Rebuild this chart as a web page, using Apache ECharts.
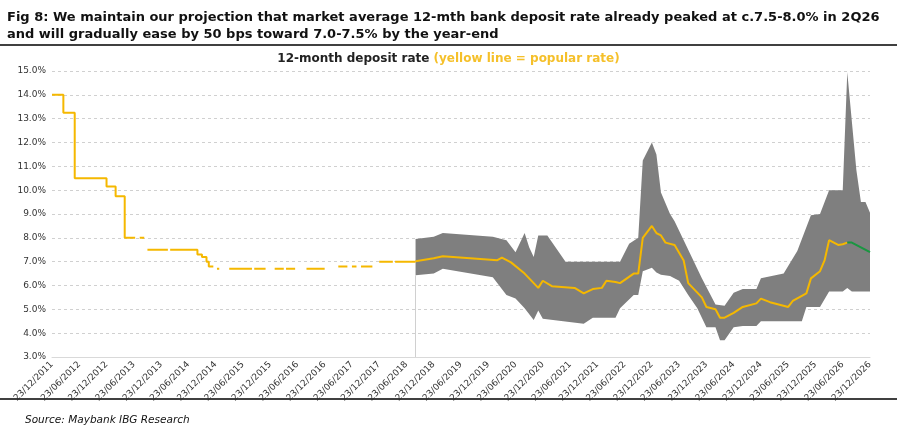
<!DOCTYPE html>
<html>
<head>
<meta charset="utf-8">
<script src="https://cdn.jsdelivr.net/npm/echarts@6/dist/echarts.min.js"></script>
<style>
body{margin:0;background:#fff;}
#chart{width:897px;height:432px;}
</style>
</head>
<body>
<div id="chart"></div>
<script>
// x values are months since 23/12/2011
var startYear=2011, startMonth=12;
var yTicks=[3,4,5,6,7,8,9,10,11,12,13,14,15];

// popular rate before the band, gaps (null) give the dashed look
var popularEarly=[[0,14],[2.5,13.25],[5,10.5],[12,10.15],[14,9.75],[16,8],[18.3,8],null,
	[19.3,8],[20.3,8],null,[21,7.5],[25.5,7.5],null,[26,7.5],[32,7.3],[33,7.2],[34,7],[34.5,6.8],[35.5,6.8],null,
	[36.3,6.7],[36.8,6.7],null,[39,6.7],[44,6.7],null,[44.5,6.7],[47,6.7],null,[49,6.7],[51,6.7],null,
	[51.5,6.7],[53.5,6.7],null,[56,6.7],[60,6.7],null,[63,6.8],[65,6.8],null,[66,6.8],[67,6.8],null,
	[68,6.8],[70.5,6.8],null,[72,7],[75,7],null,[75.5,7],[80,7]];

var popularLate=[[80,7.02],[84,7.14],[86,7.23],[98,7.06],[99,7.17],[101,6.97],[104,6.5],[107,5.9],[108,6.2],
	[110,5.97],[115,5.9],[117,5.67],[119,5.85],[121,5.9],[122,6.2],[124,6.15],[125,6.1],[128,6.5],[129,6.5],
	[130,8.0],[132,8.5],[133,8.2],[134,8.1],[135,7.8],[137,7.7],[139,7.05],[140,6.1],[143,5.5],[144,5.1],
	[146,5.0],[147,4.65],[148,4.65],[150,4.85],[152,5.1],[155,5.25],[156,5.45],[158,5.3],[162,5.1],[163,5.35],
	[166,5.67],[167,6.3],[169,6.6],[170,7.05],[171,7.9],[173,7.7],[174,7.73],[175,7.8]];

var projection=[[175,7.8],[176,7.8],[180,7.4]];

var bandUpper=[[80,7.95],[84,8.05],[86,8.2],[97,8.05],[100,7.9],[102,7.4],[104,8.2],[105,7.6],[106,7.2],
	[107,8.1],[109,8.1],[113,7.0],[125,7.0],[127,7.75],[129,8.0],[130,11.25],[132,12.0],[133,11.5],[134,9.9],
	[136,9.0],[137,8.7],[139,7.9],[143,6.3],[146,5.2],[148,5.15],[150,5.7],[152,5.85],[155,5.85],[156,6.3],
	[161,6.5],[164,7.45],[167,8.95],[169,9.0],[171,10.0],[174,10.0],[175,14.95],[177,10.85],[178,9.5],
	[179,9.5],[180,9.05]];

var bandLower=[[80,6.43],[84,6.5],[86,6.7],[97,6.35],[100,5.6],[102,5.45],[104,5.05],[106,4.55],[107,4.95],
	[108,4.6],[117,4.4],[119,4.65],[124,4.65],[125,5.05],[128,5.6],[129,5.6],[130,6.6],[132,6.75],[133,6.55],
	[134,6.45],[136,6.4],[138,6.2],[140,5.6],[142,5.05],[144,4.25],[146,4.25],[147,3.7],[148,3.7],[150,4.25],
	[152,4.3],[155,4.3],[156,4.5],[165,4.5],[166,5.1],[169,5.1],[171,5.75],[174,5.75],[175,5.9],[176,5.75],
	[180,5.75]];

function monthLabel(m){
	var t=startMonth+m-1;
	var y=startYear+Math.floor(t/12);
	var mo=t%12+1;
	return '23/'+(mo<10?'0'+mo:mo)+'/'+y;
}

var myChart=echarts.init(document.getElementById('chart'));
var option={
	animation:false,
	textStyle:{fontFamily:'DejaVu Sans'},
	title:[
		{text:'Fig 8: We maintain our projection that market average 12-mth bank deposit rate already peaked at c.7.5-8.0% in 2Q26\nand will gradually ease by 50 bps toward 7.0-7.5% by the year-end',
			left:2,top:4,textStyle:{fontSize:13,fontWeight:'bold',color:'#111',lineHeight:17}},
		{text:'{a|12-month deposit rate }{b|(yellow line = popular rate)}',left:'center',top:48,
			textStyle:{rich:{a:{fontSize:12,fontWeight:'bold',color:'#222'},b:{fontSize:12,color:'#f5c02a'}}}},
		{text:'Source: Maybank IBG Research',left:20,top:410,textStyle:{fontSize:10.5,fontStyle:'italic',fontWeight:'normal',color:'#111'}}
	],
	graphic:[
		{type:'line',shape:{x1:0,y1:45,x2:897,y2:45},style:{stroke:'#000',lineWidth:1.5}},
		{type:'line',shape:{x1:0,y1:399,x2:897,y2:399},style:{stroke:'#000',lineWidth:1.5}}
	],
	grid:{left:52,right:27,top:71,bottom:75},
	xAxis:{type:'value',min:0,max:180,interval:6,
		axisLine:{lineStyle:{color:'#d9d9d9'}},axisTick:{show:false},splitLine:{show:false},
		axisLabel:{rotate:45,fontSize:9,color:'#333',margin:6,formatter:function(v){return monthLabel(v);}}},
	yAxis:{type:'value',min:yTicks[0],max:yTicks[yTicks.length-1],interval:1,
		axisLine:{show:false},axisTick:{show:false},
		splitLine:{lineStyle:{color:'#d0d0d0',type:[3,3]}},
		axisLabel:{fontSize:9,color:'#333',margin:6,formatter:function(v){return v.toFixed(1)+'%';}}},
	series:[
		{type:'custom',name:'band',silent:true,z:1,
			data:[0],
			renderItem:function(params,api){
				var pts=[];
				bandUpper.forEach(function(p){pts.push(api.coord(p));});
				for(var i=bandLower.length-1;i>=0;i--){pts.push(api.coord(bandLower[i]));}
				return {type:'polygon',shape:{points:pts},style:{fill:'#7f7f7f'}};
			}},
		{type:'line',name:'marker',data:[],silent:true,
			markLine:{symbol:'none',label:{show:false},lineStyle:{color:'#d0d0d0',type:'solid',width:1},
				data:[[{coord:[80,3]},{coord:[80,6.43]}]]}},
		{type:'line',name:'early',data:popularEarly,step:'end',showSymbol:false,connectNulls:false,z:3,
			lineStyle:{color:'#f5b800',width:2}},
		{type:'line',name:'late',data:popularLate,showSymbol:false,z:3,
			lineStyle:{color:'#f5b800',width:2}},
		{type:'line',name:'projection',data:projection,showSymbol:false,z:3,
			lineStyle:{color:'#1a9641',width:2}}
	]
};
myChart.setOption(option);
</script>
</body>
</html>
